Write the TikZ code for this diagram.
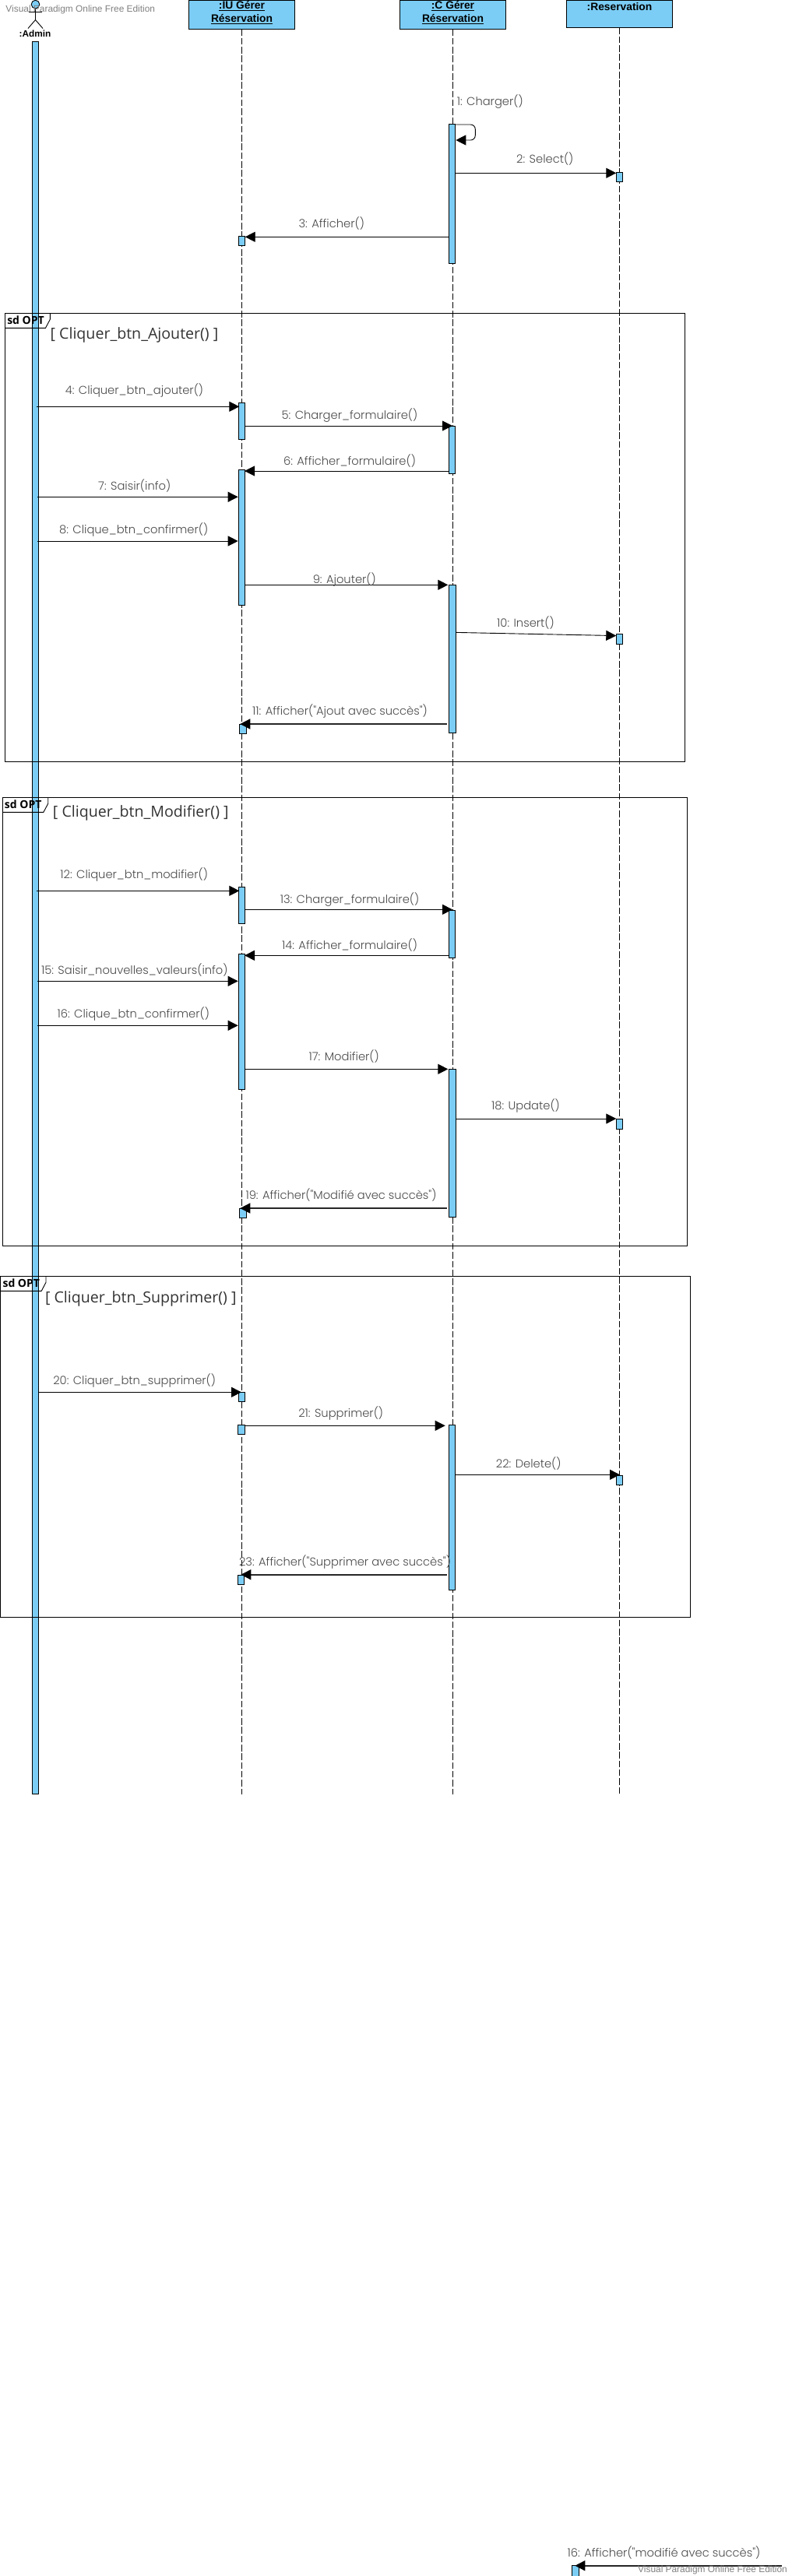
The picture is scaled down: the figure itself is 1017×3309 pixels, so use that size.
\documentclass[tikz,border=0pt]{standalone}
\usepackage{fontspec}
\setmainfont{Liberation Sans}
\newfontfamily\lblfont{Poppins Light}
\newfontfamily\guardfont{Open Sans}
\usetikzlibrary{arrows.meta}
\definecolor{umlblue}{HTML}{7BCDF5}
\definecolor{lblgray}{HTML}{4A4A4A}
\definecolor{wmgray}{HTML}{808080}
\tikzset{
  lifeline/.style={draw=black,line width=0.9pt,dash pattern=on 8.5pt off 2.8pt},
  actbar/.style={draw=black,fill=umlblue,line width=0.9pt,rectangle,inner sep=0pt,outer sep=0pt},
  headbox/.style={draw=black,fill=umlblue,line width=0.9pt,rectangle,inner sep=0pt,outer sep=0pt,font=\fontsize{13.8}{17}\selectfont\bfseries},
  sdbox/.style={draw=black,line width=1pt,rectangle,inner sep=0pt,outer sep=0pt},
  msgline/.style={draw=black,line width=0.9pt,-{Triangle[length=13pt,width=13pt]}},
  msgheavy/.style={draw=black!85,line width=1.6pt,-{Triangle[length=13pt,width=13pt,fill=black,color=black]}},
  msglbl/.style={anchor=base,yshift=-5pt,inner sep=0pt,text=lblgray,font=\lblfont\fontsize{14.7}{17}\selectfont},
  guardlbl/.style={anchor=base,yshift=-6pt,inner sep=0pt,text=black!80,font=\guardfont\fontsize{19.6}{23}\selectfont},
  sdlbl/.style={anchor=base,yshift=-5pt,inner sep=0pt,font=\guardfont\fontsize{14}{16}\selectfont\bfseries},
  wmark/.style={anchor=base,yshift=-4pt,inner sep=0pt,text=wmgray,font=\fontsize{11.9}{14}\selectfont},
}
\newcommand{\actbox}[5]{\node[actbar,minimum width={(#4-#2)*1pt},minimum height={(#5-#3)*1pt}] (#1) at ({(#2+#4)/2},{(#3+#5)/2}) {};}
\newcommand{\headtwo}[2]{\raisebox{-1.2pt}[0pt][0pt]{\begin{tabular}{@{}c@{}}\underline{#1}\\\underline{#2}\end{tabular}}}
\newcommand{\sdgroup}[9]{%
  \node[sdbox,minimum width={(#4-#2)*1pt},minimum height={(#5-#3)*1pt}] (#1) at ({(#2+#4)/2},{(#3+#5)/2}) {};
  \draw[line width=0.9pt] (#1.north west -| #6,0) -- (#6,{#3+8}) -- ({#6-5.8},#7) -- (#1.west |- 0,#7);
  \node[sdlbl] (#1tag) at (#8,#9) {sd OPT};
}
\begin{document}
\begin{tikzpicture}[x=1pt,y=-1pt]
\useasboundingbox (0,0) rectangle (1017,3309);
% lifeline heads
\node[headbox,minimum width=136.4pt,minimum height=37.5pt] (iuh) at (310.5,18.75) {\headtwo{:IU Gérer}{Réservation}};
\node[headbox,minimum width=136.4pt,minimum height=37.5pt] (ch) at (581.5,18.75) {\headtwo{:C Gérer}{Réservation}};
\node[headbox,minimum width=136.4pt,minimum height=35.5pt] (rh) at (795.5,17.75) {\raisebox{4.75pt}[0pt][0pt]{:Reservation}};
% lifeline ends
\coordinate (iue) at (310.5,2304.5);
\coordinate (ce) at (581.5,2304.5);
\coordinate (re) at (795.5,2304.5);
\draw[lifeline] (iuh.south) -- (iue);
\draw[lifeline] (ch.south) -- (ce);
\draw[lifeline] (rh.south) -- (re);
% actor
\node[draw=black,fill=umlblue,circle,line width=0.9pt,inner sep=0pt,outer sep=0pt,minimum size=10.6pt] (ahead) at (45.5,5.6) {};
\coordinate (ahip) at (45.5,25.5);
\coordinate (aarml) at (36.7,15.7);
\coordinate (aarmr) at (54.3,15.7);
\coordinate (alegl) at (36,36.5);
\coordinate (alegr) at (55,36.5);
\draw[line width=0.9pt] (ahead.south) -- (ahip);
\draw[line width=0.9pt] (aarml) -- (aarmr);
\draw[line width=0.9pt] (alegl) -- (ahip) -- (alegr);
\node[anchor=base,inner sep=0pt,font=\fontsize{11.8}{14}\selectfont\bfseries] (aname) at (45,47) {:Admin};
\actbox{adm}{41.5}{53}{49.6}{2304}
% activations
\actbox{c1}{576.4}{159.4}{584.7}{338.3}
\actbox{r1}{791.3}{221.3}{799.7}{233.7}
\actbox{iu1}{306.3}{303.3}{314.7}{315.7}
\actbox{iu4}{306}{517.3}{314.7}{564.3}
\actbox{c5}{576}{547}{584.7}{608.7}
\actbox{iu6}{306}{603.3}{314.7}{777.7}
\actbox{c9}{576.3}{751.3}{585.7}{941}
\actbox{r10}{791.3}{814.5}{799.7}{827}
\actbox{iu11}{307.7}{930}{316.7}{942.3}
\actbox{iu12}{306}{1139.3}{314.7}{1186.3}
\actbox{c13}{576}{1169.3}{584.7}{1230.7}
\actbox{iu14}{306}{1225.3}{314.7}{1399.3}
\actbox{c17}{576.3}{1373.3}{585.7}{1563.5}
\actbox{r18}{791.3}{1437}{799.7}{1450}
\actbox{iu19}{307.7}{1552.3}{316.7}{1564.7}
\actbox{iu20}{306.3}{1788.3}{314.7}{1800.7}
\actbox{iu21}{305.3}{1830.3}{314.7}{1842.7}
\actbox{c21}{576}{1830.3}{584.7}{2042.3}
\actbox{r22}{791}{1895.3}{799.7}{1907.3}
\actbox{iu23}{305.3}{2023.3}{313.7}{2035.7}
\actbox{rx}{734.3}{3295.7}{743.3}{3309}
% frames
\sdgroup{fa}{6}{402.3}{879}{978.3}{64.3}{421.3}{33}{411}
\sdgroup{fb}{3}{1024.3}{882}{1600.3}{61.7}{1043.3}{29.7}{1033}
\sdgroup{fc}{0.7}{1639.3}{886.7}{2077.3}{59}{1658.3}{27.3}{1648}
\node[guardlbl] (ga) at (172.5,429.3) {[ Cliquer\_btn\_Ajouter() ]};
\node[guardlbl] (gb) at (180.8,1043.3) {[ Cliquer\_btn\_Modifier() ]};
\node[guardlbl] (gc) at (180.8,1667.3) {[ Cliquer\_btn\_Supprimer() ]};
% messages
\draw[msgline,rounded corners=6pt] (c1.east |- 0,160) -- (610.3,160) -- (610.3,180) -- ([xshift=0.6pt]c1.east |- 0,180);
\node[msglbl] (l1) at (629.3,130) {1: Charger()};
\draw[msgline] (c1.east |- 0,222.3) -- (r1.west |- 0,222.3);
\node[msglbl] (l2) at (699.8,204.7) {2: Select()};
\draw[msgline] (c1.west |- 0,304.3) -- (iu1.east |- 0,304.3);
\node[msglbl] (l3) at (425.8,287.7) {3: Afficher()};
\draw[msgline] ([xshift=-2.3pt]adm.east |- 0,522.3) -- ([xshift=1.3pt]iu4.west |- 0,522.3);
\node[msglbl] (l4) at (172.5,501.7) {4: Cliquer\_btn\_ajouter()};
\draw[msgline] (iu4.east |- 0,547) -- ([xshift=-3.7pt]c5.east |- 0,547);
\node[msglbl] (l5) at (449,533.7) {5: Charger\_formulaire()};
\draw[msgline] ([xshift=1.3pt]c5.west |- 0,605) -- ([xshift=-0.7pt]iu6.east |- 0,605);
\node[msglbl] (l6) at (449,592.3) {6: Afficher\_formulaire()};
\draw[msgline] ([xshift=-1.3pt]adm.east |- 0,638.3) -- ([xshift=-0.3pt]iu6.west |- 0,638.3);
\node[msglbl] (l7) at (172.7,624.7) {7: Saisir(info)};
\draw[msgline] ([xshift=-1.3pt]adm.east |- 0,695) -- ([xshift=-0.3pt]iu6.west |- 0,695);
\node[msglbl] (l8) at (171.7,680.7) {8: Clique\_btn\_confirmer()};
\draw[msgline] (iu6.east |- 0,751.3) -- ([xshift=-1pt]c9.west |- 0,751.3);
\node[msglbl] (l9) at (442.3,744) {9: Ajouter()};
\draw[msgline] (c9.east |- 0,812.4) -- (r10.west |- 0,816.6);
\node[msglbl] (l10) at (675,800) {10: Insert()};
\draw[msgheavy] ([xshift=-2pt]c9.west |- 0,930) -- ([xshift=0.6pt]iu11.west |- 0,930);
\node[msglbl] (l11) at (436.5,913.7) {11: Afficher("Ajout avec succès")};
\draw[msgline] ([xshift=-2.3pt]adm.east |- 0,1144.3) -- ([xshift=1.3pt]iu12.west |- 0,1144.3);
\node[msglbl] (l12) at (172.2,1123.7) {12: Cliquer\_btn\_modifier()};
\draw[msgline] (iu12.east |- 0,1168.3) -- ([xshift=-3.7pt]c13.east |- 0,1168.3);
\node[msglbl] (l13) at (449,1155.7) {13: Charger\_formulaire()};
\draw[msgline] ([xshift=1.3pt]c13.west |- 0,1227.3) -- ([xshift=-0.7pt]iu14.east |- 0,1227.3);
\node[msglbl] (l14) at (449,1214.3) {14: Afficher\_formulaire()};
\draw[msgline] ([xshift=-1.3pt]adm.east |- 0,1260.3) -- ([xshift=-0.3pt]iu14.west |- 0,1260.3);
\node[msglbl] (l15) at (172.8,1246.7) {15: Saisir\_nouvelles\_valeurs(info)};
\draw[msgline] ([xshift=-1.3pt]adm.east |- 0,1317.3) -- ([xshift=-0.3pt]iu14.west |- 0,1317.3);
\node[msglbl] (l16) at (171.3,1302.7) {16: Clique\_btn\_confirmer()};
\draw[msgline] (iu14.east |- 0,1373.3) -- ([xshift=-1pt]c17.west |- 0,1373.3);
\node[msglbl] (l17) at (441.7,1357.7) {17: Modifier()};
\draw[msgline] (c17.east |- 0,1437) -- (r18.west |- 0,1437);
\node[msglbl] (l18) at (675,1420) {18: Update()};
\draw[msgheavy] ([xshift=-2pt]c17.west |- 0,1552) -- ([xshift=0.6pt]iu19.west |- 0,1552);
\node[msglbl] (l19) at (438,1535.7) {19: Afficher("Modifié avec succès")};
\draw[msgline] (adm.east |- 0,1788.3) -- ([xshift=3.7pt]iu20.west |- 0,1788.3);
\node[msglbl] (l20) at (172.7,1773) {20: Cliquer\_btn\_supprimer()};
\draw[msgline] (iu21.east |- 0,1831.3) -- ([xshift=-4.3pt]c21.west |- 0,1831.3);
\node[msglbl] (l21) at (437.7,1815) {21: Supprimer()};
\draw[msgline] (c21.east |- 0,1894.3) -- ([xshift=5pt]r22.west |- 0,1894.3);
\node[msglbl] (l22) at (678.7,1880) {22: Delete()};
\draw[msgheavy] ([xshift=-2pt]c21.west |- 0,2022.7) -- ([xshift=4pt]iu23.west |- 0,2022.7);
\node[msglbl] (l23) at (443,2006) {23: Afficher("Supprimer avec succès")};
% leftover message at the foot of the page
\coordinate (xs) at (1004,3295.7);
\draw[msgheavy] (xs) -- ([xshift=4pt]rx.west |- xs);
\node[msglbl] (lx) at (852.5,3279.3) {16: Afficher("modifié avec succès")};
% watermarks
\node[wmark] (w1) at (103.3,11.7) {Visual Paradigm Online Free Edition};
\node[wmark] (w2) at (915,3300) {Visual Paradigm Online Free Edition};
\end{tikzpicture}
\end{document}
